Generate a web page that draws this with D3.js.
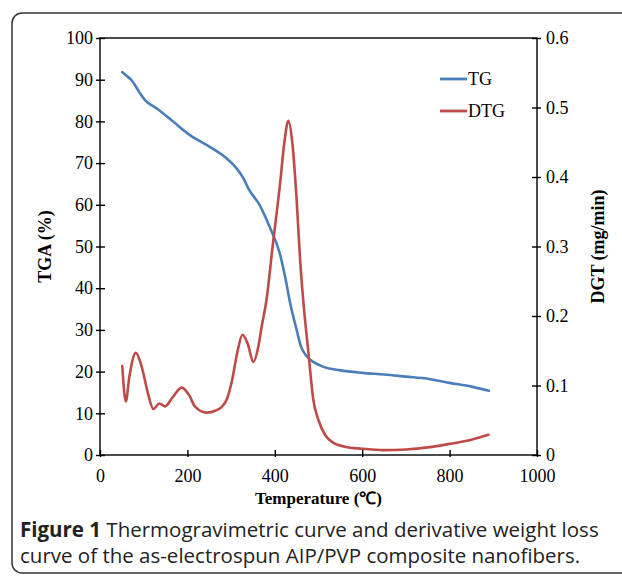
<!DOCTYPE html>
<html>
<head>
<meta charset="utf-8">
<script src="https://cdn.jsdelivr.net/npm/d3@7"></script>
<style>
  body { margin: 0; background: #fff; }
  svg { display: block; }
</style>
</head>
<body>
<div id="chart"></div>
<script>
// TG curve (weight %, left axis)
const tgTemp = [51, 60, 72, 90, 103, 130, 168, 206, 251, 290, 312, 328, 340, 366, 389, 411, 425, 434, 450, 460, 472, 490, 510, 550, 600, 650, 700, 750, 800, 850, 890]
const tgValue = [91.8, 91.0, 89.9, 87.0, 85.1, 83.1, 79.9, 76.7, 73.9, 71.1, 68.8, 66.4, 63.8, 59.8, 54.5, 48.5, 42, 37, 30, 26, 23.8, 22.2, 21.2, 20.3, 19.7, 19.3, 18.8, 18.3, 17.3, 16.4, 15.4]

// DTG curve (mg/min, right axis)
const dtgTemp = [51, 59, 67, 82, 95, 110, 122, 136, 149, 165, 187, 205, 217, 244, 265, 278, 290, 301, 315, 326, 338, 351, 362, 370, 381, 395, 412, 422, 431, 440, 450, 458, 465, 477, 488, 500, 516, 535, 560, 600, 650, 700, 750, 800, 850, 889]
const dtgValue = [0.128, 0.077, 0.112, 0.147, 0.128, 0.088, 0.066, 0.074, 0.070, 0.082, 0.097, 0.085, 0.070, 0.061, 0.064, 0.069, 0.080, 0.104, 0.150, 0.173, 0.160, 0.134, 0.155, 0.185, 0.223, 0.300, 0.390, 0.450, 0.481, 0.450, 0.367, 0.280, 0.223, 0.147, 0.080, 0.050, 0.028, 0.017, 0.012, 0.009, 0.007, 0.008, 0.011, 0.016, 0.022, 0.029]

const xTicks = [0, 200, 400, 600, 800, 1000]
const yLeftTicks = [0, 10, 20, 30, 40, 50, 60, 70, 80, 90, 100]
const yRightTicks = [0, 0.1, 0.2, 0.3, 0.4, 0.5, 0.6]

const legendItems = ['TG', 'DTG']
const captionBold = 'Figure 1'
const captionLines = [' Thermogravimetric curve and derivative weight loss', 'curve of the as-electrospun AIP/PVP composite nanofibers.']

const W = 622, H = 577
const margin = { top: 38, left: 100, right: 85, bottom: 122 }
const blue = '#4a7ebb', red = '#be4b48'
const serif = '"Liberation Serif", "Times New Roman", serif'
const sans = '"Open Sans", "Noto Sans", sans-serif'

const svg = d3.select('#chart').append('svg').attr('width', W).attr('height', H)

// outer rounded frame (right and bottom run off the picture)
svg.append('rect')
  .attr('x', 12).attr('y', 13)
  .attr('width', 700).attr('height', 560)
  .attr('rx', 10)
  .attr('fill', 'none').attr('stroke', '#333').attr('stroke-width', 1.5)

const iw = W - margin.left - margin.right
const ih = H - margin.top - margin.bottom

const x = d3.scaleLinear().domain([0, 1000]).range([0, iw])
const yL = d3.scaleLinear().domain([0, 100]).range([ih, 0])
const yR = d3.scaleLinear().domain([0, 0.6]).range([ih, 0])

const g = svg.append('g').attr('transform', `translate(${margin.left}, ${margin.top})`)

// box
g.append('rect').attr('width', iw).attr('height', ih)
  .attr('fill', 'none').attr('stroke', '#000').attr('stroke-width', 1.4)

function styleAxis (sel) {
  sel.select('.domain').remove()
  sel.selectAll('.tick line').attr('stroke', '#000').attr('stroke-width', 1.4)
  sel.selectAll('.tick text').attr('font-family', serif).attr('font-size', 18).attr('fill', '#000')
}

// axes with ticks crossing the line
g.append('g').attr('transform', `translate(0, ${ih})`)
  .call(d3.axisBottom(x).tickValues(xTicks).tickSize(4).tickPadding(10).tickFormat(d3.format('d')))
  .call(styleAxis)
  .selectAll('.tick line').attr('y1', -5).attr('y2', 2)

g.append('g')
  .call(d3.axisLeft(yL).tickValues(yLeftTicks).tickSize(4).tickPadding(3).tickFormat(d3.format('d')))
  .call(styleAxis)
  .selectAll('.tick line').attr('x1', 5).attr('x2', -4)

g.append('g').attr('transform', `translate(${iw}, 0)`)
  .call(d3.axisRight(yR).tickValues(yRightTicks).tickSize(4).tickPadding(5).tickFormat(d => d === 0 ? '0' : d3.format('.1f')(d)))
  .call(styleAxis)
  .selectAll('.tick line').attr('x1', -5).attr('x2', 4)

// curves
const tgLine = d3.line().x(d => x(d[0])).y(d => yL(d[1])).curve(d3.curveMonotoneX)
const dtgLine = d3.line().x(d => x(d[0])).y(d => yR(d[1])).curve(d3.curveMonotoneX)

g.append('path').datum(d3.zip(tgTemp, tgValue))
  .attr('d', tgLine).attr('fill', 'none').attr('stroke', blue).attr('stroke-width', 2.6)
  .attr('stroke-linejoin', 'round').attr('stroke-linecap', 'round')

g.append('path').datum(d3.zip(dtgTemp, dtgValue))
  .attr('d', dtgLine).attr('fill', 'none').attr('stroke', red).attr('stroke-width', 2.6)
  .attr('stroke-linejoin', 'round').attr('stroke-linecap', 'round')

// legend
const lg = svg.append('g').attr('transform', 'translate(440, 79)')
legendItems.forEach((name, i) => {
  const row = lg.append('g').attr('transform', `translate(0, ${i * 32})`)
  row.append('line').attr('x1', 0).attr('x2', 27)
    .attr('stroke', i === 0 ? blue : red).attr('stroke-width', 2.8)
  row.append('text').attr('x', 28).attr('dy', '0.35em')
    .attr('font-family', serif).attr('font-size', 18).attr('fill', '#000').text(name)
})

// axis titles
svg.append('text')
  .attr('transform', `translate(45, ${margin.top + ih / 2}) rotate(-90)`)
  .attr('text-anchor', 'middle').attr('dy', '0.35em')
  .attr('font-family', serif).attr('font-weight', 'bold').attr('font-size', 18).attr('fill', '#000')
  .text('TGA (%)')

svg.append('text')
  .attr('transform', `translate(598, ${margin.top + ih / 2}) rotate(-90)`)
  .attr('text-anchor', 'middle').attr('dy', '0.35em')
  .attr('font-family', serif).attr('font-weight', 'bold').attr('font-size', 18).attr('fill', '#000')
  .text('DGT (mg/min)')

svg.append('text')
  .attr('x', margin.left + iw / 2).attr('y', 504)
  .attr('text-anchor', 'middle')
  .attr('font-family', serif).attr('font-weight', 'bold').attr('font-size', 17).attr('fill', '#000')
  .text('Temperature (℃)')

// caption
const cap = svg.append('text').attr('x', 20).attr('y', 537)
  .attr('font-family', sans).attr('font-size', 20.5).attr('fill', '#222')
cap.append('tspan').attr('font-weight', 'bold').text(captionBold)
cap.append('tspan').text(captionLines[0])
svg.append('text').attr('x', 20).attr('y', 563)
  .attr('font-family', sans).attr('font-size', 20.5).attr('fill', '#222')
  .text(captionLines[1])
</script>
</body>
</html>
